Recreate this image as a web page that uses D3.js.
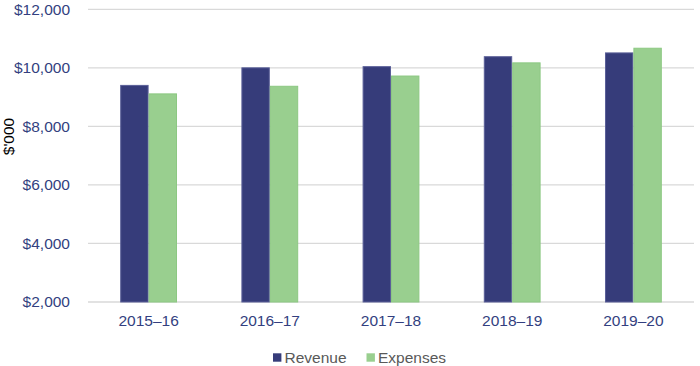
<!DOCTYPE html>
<html>
<head>
<meta charset="utf-8">
<script src="https://cdn.jsdelivr.net/npm/d3@7"></script>
<style>
  body { margin: 0; background: #fff; }
  text { font-family: "Liberation Sans", Arial, sans-serif; }
</style>
</head>
<body>
<svg id="chart" width="700" height="366"></svg>
<script>
const years = ['2015–16', '2016–17', '2017–18', '2018–19', '2019–20']
const revenue = [9400, 10000, 10040, 10380, 10510]
const expenses = [9110, 9370, 9720, 10170, 10670]
const yTicks = [2000, 4000, 6000, 8000, 10000, 12000]
const seriesNames = ['Revenue', 'Expenses']
const seriesColors = ['#363c7a', '#99cf8f']
const seriesStrokes = ['#5a5f98', '#8cc882']

const svg = d3.select('#chart')
const margin = { top: 9.3, right: 6, bottom: 64, left: 88 }
const width = 700 - margin.left - margin.right
const height = 366 - margin.top - margin.bottom
const labelColor = '#333f80'
const fontSize = 15.5

const rows = years.map((y, i) => ({ year: y, values: [revenue[i], expenses[i]] }))

const x = d3.scaleBand().domain(years).range([0, width]).paddingInner(0).paddingOuter(0)
const xInner = d3.scaleBand().domain(seriesNames).range([x.bandwidth() / 2 - 28.4, x.bandwidth() / 2 + 28.4])
const y = d3.scaleLinear().domain([2000, 12000]).range([height, 0])

const g = svg.append('g').attr('transform', `translate(${margin.left},${margin.top})`)

// gridlines
g.append('g')
    .selectAll('line')
    .data(yTicks)
    .join('line')
    .attr('x1', 0)
    .attr('x2', width)
    .attr('y1', d => y(d))
    .attr('y2', d => y(d))
    .attr('stroke', '#d9d9d9')
    .attr('stroke-width', 1.3)

// y axis labels
const yAxis = g.append('g')
    .call(d3.axisLeft(y).tickValues(yTicks).tickSize(0).tickPadding(18)
        .tickFormat(d => '$' + d3.format(',')(d)))
yAxis.select('.domain').remove()
yAxis.selectAll('text').attr('fill', labelColor).attr('font-size', fontSize)

// x axis labels
const xAxis = g.append('g')
    .attr('transform', `translate(0,${height})`)
    .call(d3.axisBottom(x).tickSize(0).tickPadding(12.5))
xAxis.select('.domain').remove()
xAxis.selectAll('text').attr('fill', labelColor).attr('font-size', fontSize)

// bars
g.append('g')
    .selectAll('g')
    .data(rows)
    .join('g')
    .attr('transform', d => `translate(${x(d.year)},0)`)
    .selectAll('rect')
    .data(d => d.values.map((v, i) => ({ name: seriesNames[i], value: v, i })))
    .join('rect')
    .attr('x', d => xInner(d.name) + 0.5)
    .attr('width', xInner.bandwidth() - 1)
    .attr('y', d => y(d.value))
    .attr('height', d => y(2000) - y(d.value))
    .attr('fill', d => seriesColors[d.i])
    .attr('stroke', d => seriesStrokes[d.i])
    .attr('stroke-width', 1)

// y axis title
svg.append('text')
    .attr('transform', 'translate(14,136.5) rotate(-90)')
    .attr('text-anchor', 'middle')
    .attr('font-size', fontSize)
    .attr('fill', '#000')
    .text("$'000")

// legend
const legendX = [273, 366.5]
const legend = svg.append('g')
    .selectAll('g')
    .data(seriesNames)
    .join('g')
    .attr('transform', (d, i) => `translate(${legendX[i]},357.5)`)
legend.append('rect')
    .attr('x', 0)
    .attr('y', -4.2)
    .attr('width', 8.4)
    .attr('height', 8.4)
    .attr('fill', (d, i) => seriesColors[i])
legend.append('text')
    .attr('x', 11.5)
    .attr('y', 0)
    .attr('dy', '0.35em')
    .attr('font-size', fontSize)
    .attr('fill', '#595959')
    .text(d => d)
</script>
</body>
</html>
